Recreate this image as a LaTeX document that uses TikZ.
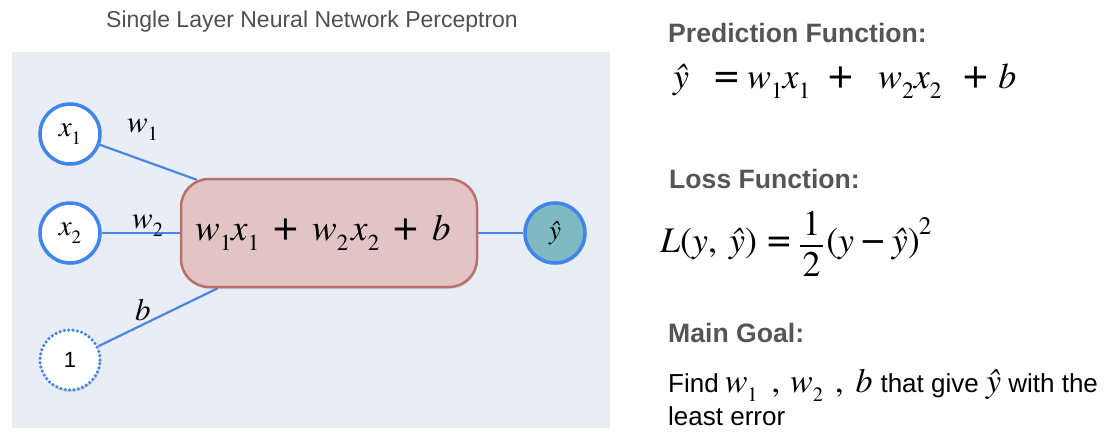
\documentclass[tikz,border=0pt]{standalone}
\usepackage{fontspec}
\usepackage{amsmath}
\usepackage{graphicx}
\usetikzlibrary{shadows}
\setmainfont{Liberation Sans}
\newfontfamily\tmfont{TeX Gyre Termes}
\newcommand\vi[1]{{\tmfont\itshape #1}}
\newcommand\lo[2][0.65]{\raisebox{-0.28em}{\scalebox{#1}{\tmfont\upshape #2}}}
\newcommand\hi[1]{\raisebox{0.5em}{\scalebox{0.7}{\tmfont\upshape #1}}}
\newcommand\fs[1]{\fontsize{#1}{#1}\selectfont}
\newcommand\frc[2]{$\genfrac{}{}{1.8pt}{0}{\hbox{\hspace{2.5pt}#1\hspace{2.5pt}}}{\hbox{\hspace{2.5pt}#2\hspace{2.5pt}}}$}
\definecolor{panel}{RGB}{233,237,246}
\definecolor{nodeblue}{RGB}{64,132,236}
\definecolor{linkblue}{RGB}{74,134,228}
\definecolor{boxfill}{RGB}{226,196,197}
\definecolor{boxdraw}{RGB}{184,112,107}
\definecolor{outfill}{RGB}{127,186,194}
\definecolor{headgray}{RGB}{85,85,85}
\definecolor{titlegray}{RGB}{80,80,80}
\pgfdeclarelayer{bg}
\pgfdeclarelayer{links}
\pgfsetlayers{bg,links,main}
\tikzset{
  shade/.style={drop shadow={shadow xshift=0.8pt, shadow yshift=-2pt, opacity=0.18, fill=black!60}},
  inode/.style={circle, draw=nodeblue, line width=3.5pt, fill=white, minimum size=60pt, inner sep=0pt, font=\fs{29}\tmfont\itshape, shade},
  bnode/.style={inode, dash pattern=on 0pt off 4.4pt, line cap=round, font=\fs{22}},
  onode/.style={inode, fill=outfill, font=\fs{27}\tmfont\itshape},
  sumbox/.style={rectangle, rounded corners=28pt, draw=boxdraw, fill=boxfill, line width=2.5pt, minimum width=296pt, minimum height=108pt, inner sep=0pt, shade},
  sumtext/.style={font=\fs{37}\tmfont, inner sep=0pt},
  link/.style={draw=linkblue, line width=2.2pt},
  wlabel/.style={font=\fs{31}\tmfont\itshape, inner sep=0pt, anchor=base west},
  heading/.style={font=\fs{26.6}\bfseries, text=headgray, anchor=base west, inner sep=0pt},
  body/.style={font=\fs{26}, anchor=base west, inner sep=0pt},
  eqn/.style={font=\fs{36}\tmfont, anchor=base west, inner sep=0pt},
  titletext/.style={font=\fs{23}, text=titlegray, anchor=base, inner sep=0pt}
}
\begin{document}
\begin{tikzpicture}[x=1pt,y=-1pt]
\useasboundingbox (0,0) rectangle (1107,442);
\begin{pgfonlayer}{bg}
\fill[white] (0,0) rectangle (1107,442);
\fill[panel] (12,52) rectangle (610,428);
\end{pgfonlayer}
\node[titletext] (title) at (312,27) {Single Layer Neural Network Perceptron};
% network
\node[inode] (x1) at (70,134) {x\lo{1}};
\node[inode] (x2) at (70,233) {x\lo{2}};
\node[bnode] (one) at (70,360) {1};
\node[sumbox] (sum) at (329,233) {};
\node[sumtext] (sumtxt) at ([xshift=-6pt]sum.center) {\vi{w}\lo[0.62]{1}\vi{x}\lo[0.62]{1}\hspace{14pt}{\fs{44}+}\hspace{14pt}\vi{w}\lo[0.62]{2}\hspace{3pt}\vi{x}\lo[0.62]{2}\hspace{14pt}{\fs{44}+}\hspace{14pt}\vi{b}};
\node[onode] (yh) at (555,233) {ŷ};
\begin{pgfonlayer}{links}
\draw[link] (x1) -- ([xshift=17pt,yshift=-2pt]sum.north west);
\draw[link] (x2) -- (sum);
\draw[link] (one) -- ([xshift=38pt]sum.south west);
\draw[link] (sum) -- (yh);
\end{pgfonlayer}
\node[wlabel] (lw1) at (127,132) {w\lo{1}};
\node[wlabel] (lw2) at (132,228) {w\lo{2}};
\node[wlabel] (lb) at (135,320) {b};
% right side
\node[heading] (h1) at (668,42) {Prediction Function:};
\node[eqn] (eq1) at (673,88) {\vi{ŷ}\hspace{25pt}{\fs{44}=}\hspace{8pt}\vi{w}\lo{1}\vi{x}\lo{1}\hspace{18pt}{\fs{44}+}\hspace{25pt}\vi{w}\lo{2}\vi{x}\lo{2}\hspace{22pt}{\fs{44}+}\hspace{10pt}\vi{b}};
\node[heading] (h2) at (669,188) {Loss Function:};
\node[eqn] (eq2) at (660,252) {\vi{L}(\vi{y},\hspace{12pt}\vi{ŷ})\hspace{10pt}{\fs{42}=}\hspace{8pt}\frc{1}{2}\hspace{2pt}(\vi{y}\hspace{7pt}{\fs{42}−}\hspace{7pt}\vi{ŷ})\hspace{-1pt}\hi{2}};
\node[heading] (h3) at (668,342) {Main Goal:};
\node[body] (g1) at (668,392) {Find\hspace{6pt}{\fs{34}\vi{w}\lo[0.6]{1}\hspace{14pt}{\tmfont ,}\hspace{10pt}\vi{w}\lo[0.6]{2}\hspace{12pt}{\tmfont ,}\hspace{12pt}\vi{b}}\hspace{8pt}that give {\fs{34}\vi{ŷ}} with the};
\node[body] (g2) at (668,425) {least error};
\end{tikzpicture}
\end{document}
